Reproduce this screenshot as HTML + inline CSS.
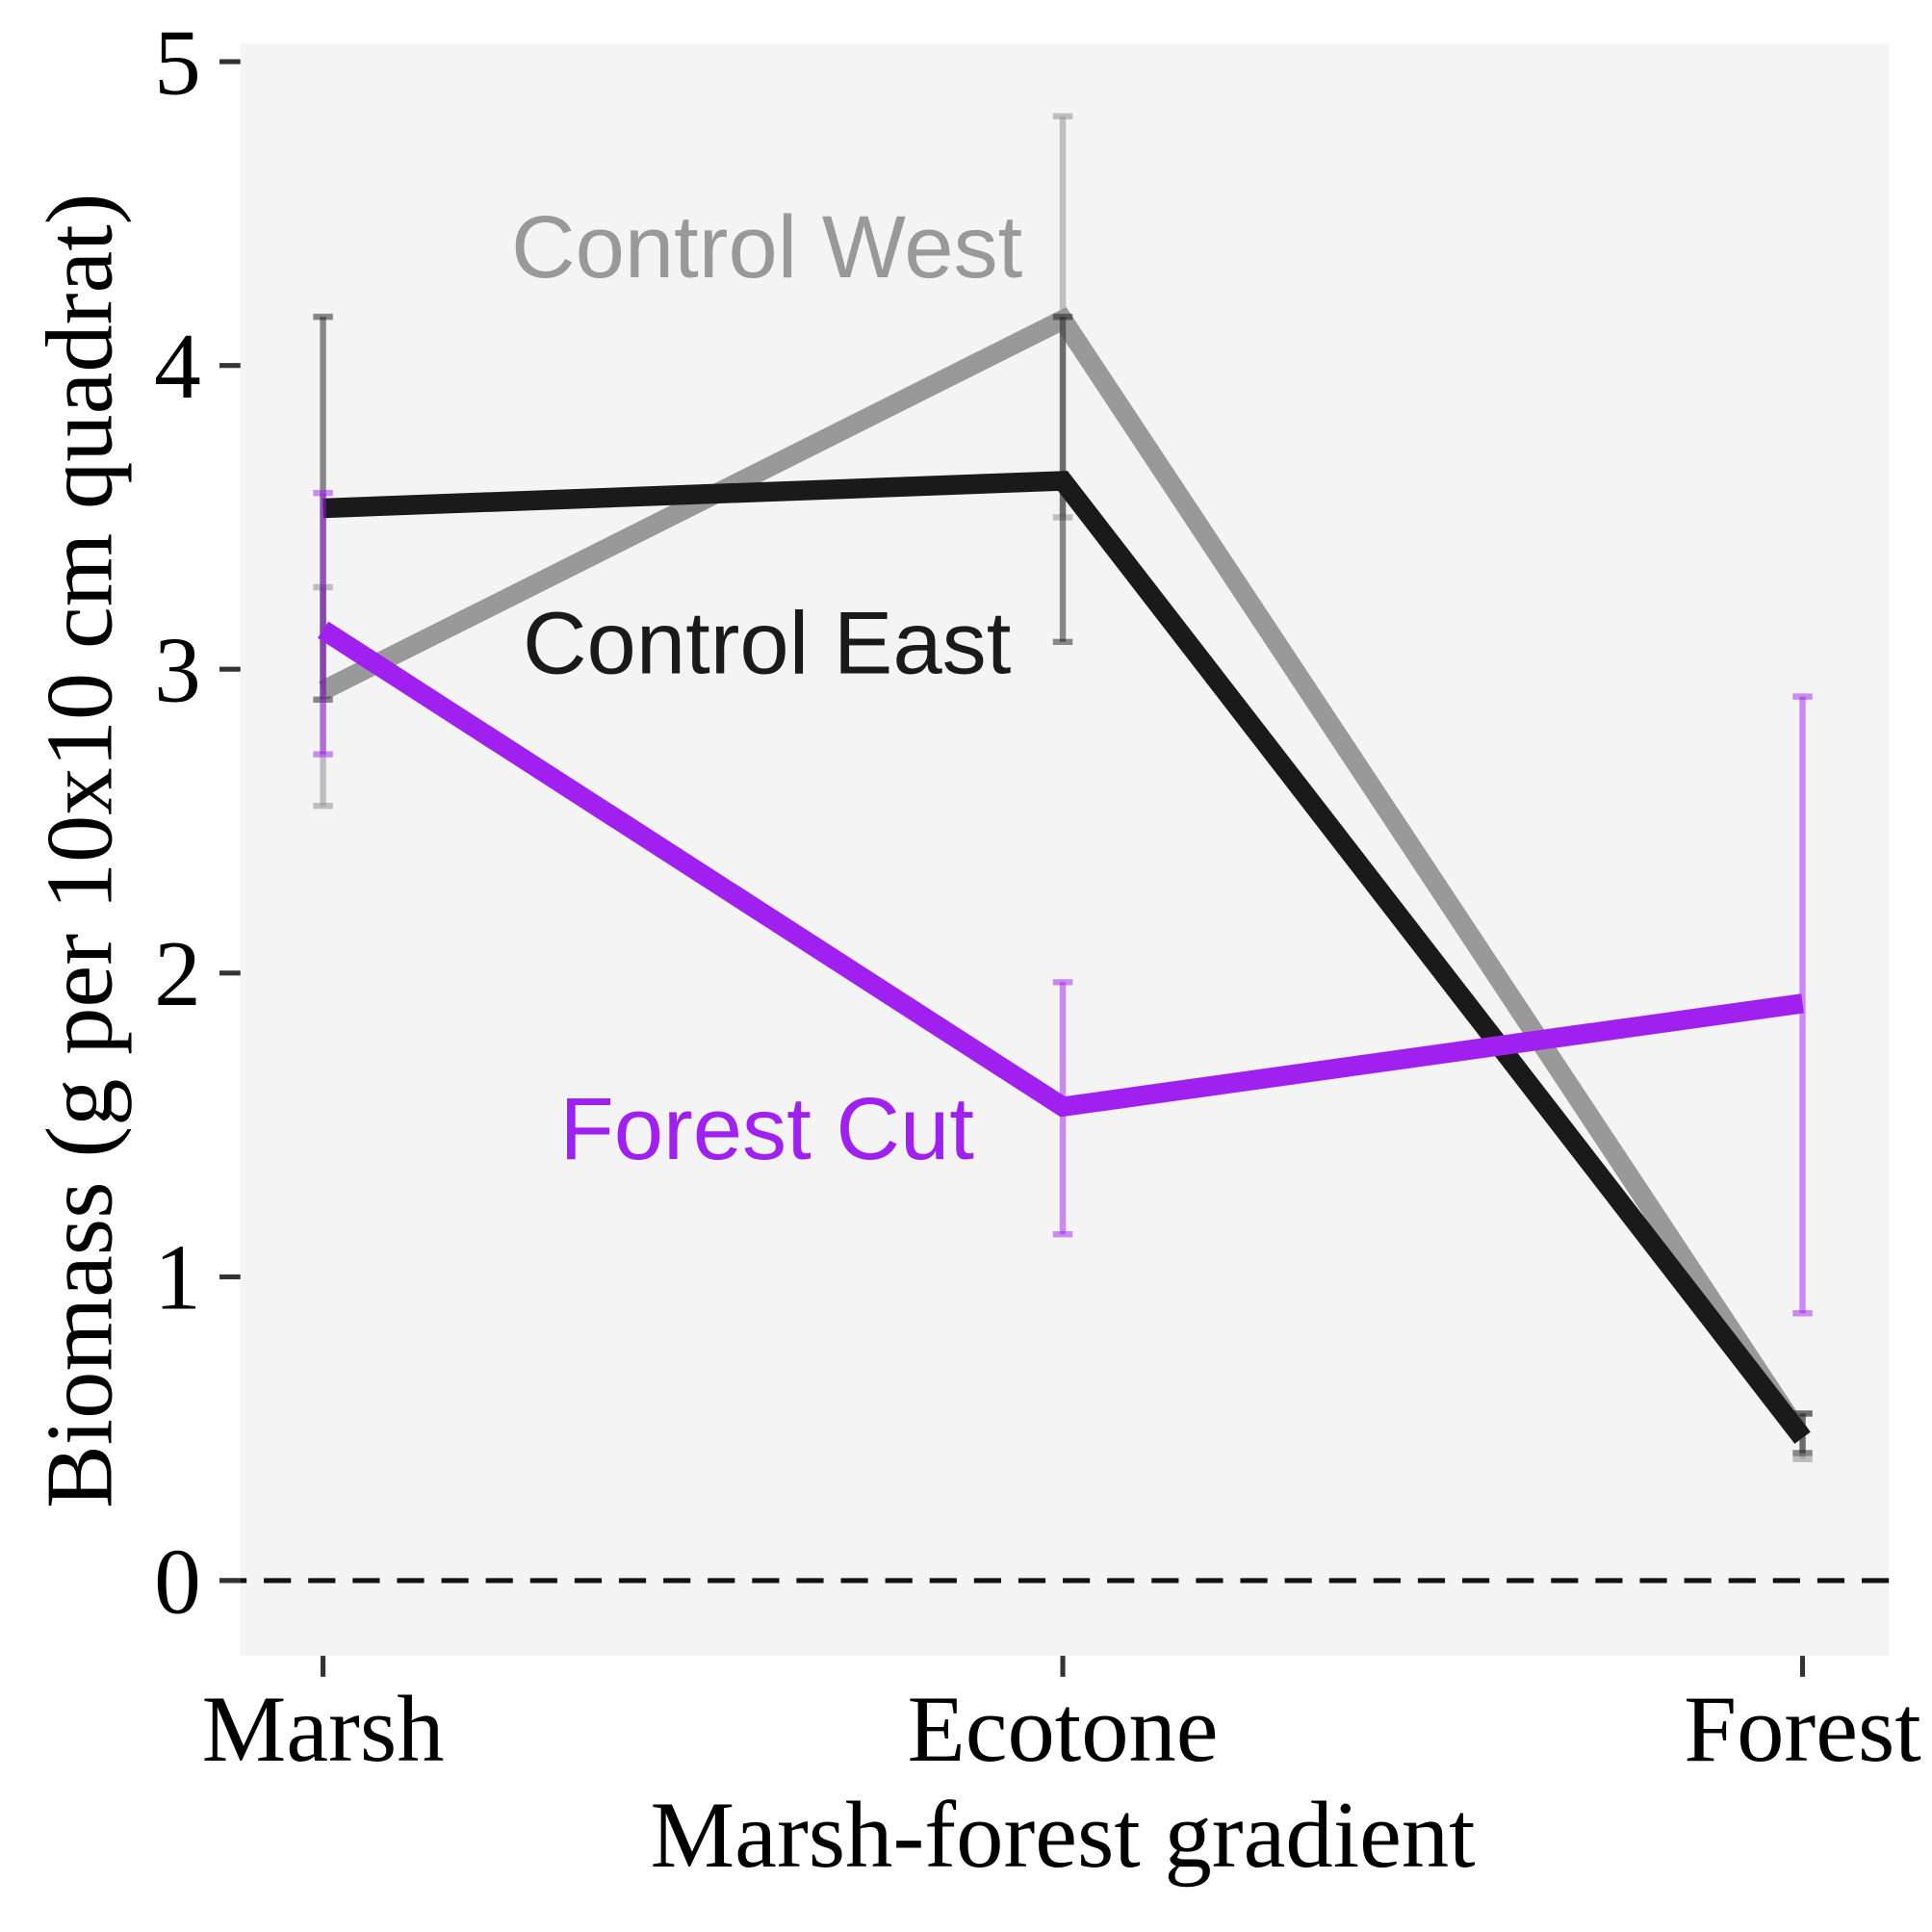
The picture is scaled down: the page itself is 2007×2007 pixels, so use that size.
<!DOCTYPE html>
<html><head><meta charset="utf-8"><style>html,body{margin:0;padding:0;background:#fff}svg{display:block}</style></head>
<body>
<svg id="chart" xmlns="http://www.w3.org/2000/svg" width="2007" height="2007" viewBox="0 0 1567 1567">
<rect x="0" y="0" width="1567" height="1567" fill="#fff"/>
<rect x="195" y="35" width="1337" height="1308" fill="#f4f4f4"/>
<g id="marks"></g>
<g id="axes"></g>
<text x="862" y="1514" text-anchor="middle" font-family="Liberation Serif, serif" font-size="77">Marsh-forest gradient</text>
<text transform="translate(90,690) rotate(-90)" text-anchor="middle" font-family="Liberation Serif, serif" font-size="77">Biomass (g per 10x10 cm quadrat)</text>
<text x="622" y="225" text-anchor="middle" font-family="Liberation Sans, sans-serif" font-size="72" fill="#999">Control West</text>
<text x="622" y="546" text-anchor="middle" font-family="Liberation Sans, sans-serif" font-size="72" fill="#1a1a1a">Control East</text>
<text x="622" y="940" text-anchor="middle" font-family="Liberation Sans, sans-serif" font-size="72" fill="#a020f0">Forest Cut</text>
</svg>
<script>
const categories = ["Marsh", "Ecotone", "Forest"];
const yTicks = [0, 1, 2, 3, 4, 5];
const westMean = [2.93, 4.15, 0.47];
const westLow = [2.55, 3.50, 0.40];
const westHigh = [3.27, 4.82, 0.55];
const eastMean = [3.53, 3.62, 0.47];
const eastLow = [2.90, 3.09, 0.42];
const eastHigh = [4.16, 4.16, 0.55];
const cutMean = [3.13, 1.56, 1.90];
const cutLow = [2.72, 1.14, 0.88];
const cutHigh = [3.58, 1.97, 2.91];

const NS = "http://www.w3.org/2000/svg";
const xPos = i => 262 + i * 600;
const yPos = v => 1282 - v * 246.4;
const marks = document.getElementById('marks');
const axes = document.getElementById('axes');
function mk(tag, attrs, parent) {
  const e = document.createElementNS(NS, tag);
  for (const k in attrs) e.setAttribute(k, attrs[k]);
  parent.appendChild(e);
  return e;
}
const z = mk('line', {x1:178, x2:1532, y1:yPos(0), y2:yPos(0), stroke:'#111', 'stroke-width':4, 'stroke-dasharray':'22,14'}, marks);



const series = [
  {name:'control-west', mean:westMean, lo:westLow, hi:westHigh, color:'#999999', ebColor:'rgba(153,153,153,0.6)'},
  {name:'control-east', mean:eastMean, lo:eastLow, hi:eastHigh, color:'#1a1a1a', ebColor:'rgba(26,26,26,0.5)'},
  {name:'forest-cut', mean:cutMean, lo:cutLow, hi:cutHigh, color:'#a020f0', ebColor:'rgba(160,32,240,0.5)'}
];
series.forEach(s => {
  const pts = s.mean.map((v, i) => xPos(i) + ',' + yPos(v)).join(' ');
  const l = mk('polyline', {points:pts, fill:'none', stroke:s.color, 'stroke-width':16, 'stroke-linejoin':'miter'}, marks);
  
  
  s.mean.forEach((v, i) => {
    const g = mk('g', {stroke:s.ebColor, 'stroke-width':5}, marks);
    
    
    const x = xPos(i);
    mk('line', {x1:x, x2:x, y1:yPos(s.lo[i]), y2:yPos(s.hi[i])}, g);
    mk('line', {x1:x-8, x2:x+8, y1:yPos(s.lo[i]), y2:yPos(s.lo[i])}, g);
    mk('line', {x1:x-8, x2:x+8, y1:yPos(s.hi[i]), y2:yPos(s.hi[i])}, g);
  });
});
yTicks.forEach(t => {
  const tk = mk('line', {x1:178, x2:195, y1:yPos(t), y2:yPos(t), stroke:'#333', 'stroke-width':4}, axes);
  
  
  const tx = mk('text', {x:163, y:yPos(t) + 26, 'text-anchor':'end', 'font-family':'Liberation Serif, serif', 'font-size':76}, axes);
  tx.textContent = t;
  
  
});
categories.forEach((c, i) => {
  const tk = mk('line', {x1:xPos(i), x2:xPos(i), y1:1343, y2:1360, stroke:'#333', 'stroke-width':4}, axes);
  
  
  const tx = mk('text', {x:xPos(i), y:1428, 'text-anchor':'middle', 'font-family':'Liberation Serif, serif', 'font-size':77}, axes);
  tx.textContent = c;
  
  
});
</script>
</body></html>
